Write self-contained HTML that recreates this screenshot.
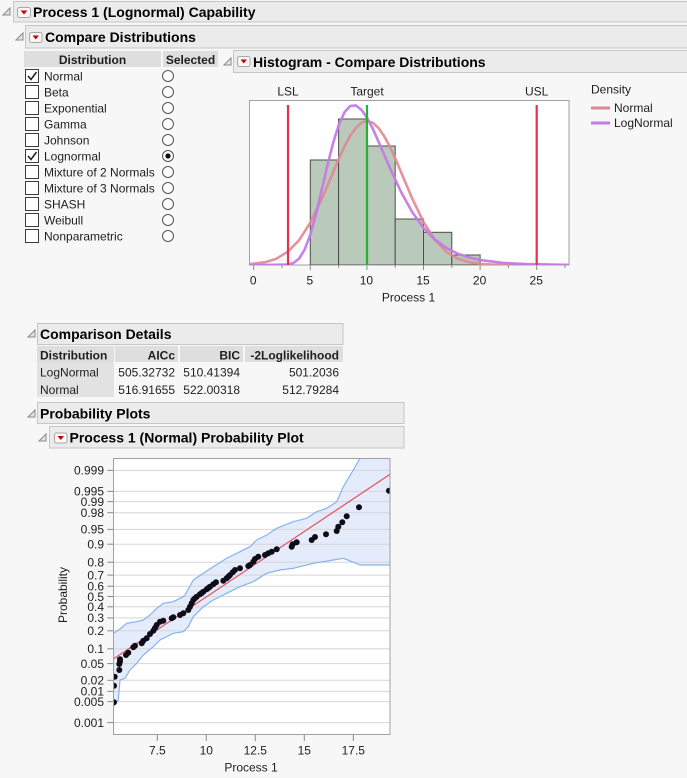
<!DOCTYPE html>
<html><head><meta charset="utf-8"><style>
html,body{margin:0;padding:0;background:#f7f7f7;}
svg{display:block;font-family:"Liberation Sans",Arial,sans-serif;}
.h{font-weight:bold;font-size:14px;fill:#000;}
.t{font-size:12px;fill:#1e1e1e;}
.tb{font-size:12px;font-weight:bold;fill:#1e1e1e;}
.tri{fill:#e4e4e4;stroke:#8a8a8a;stroke-width:1;}
.btn{fill:#f8f8f8;stroke:#a6a6a6;stroke-width:1;}
.rd{fill:#cc0000;}
.hdr{fill:#ebebeb;stroke:#c6c6c6;stroke-width:1;}
.cb{fill:#fff;stroke:#3a3a3a;stroke-width:1;}
.rb{fill:#fff;stroke:#555;stroke-width:1;}
.grid{stroke:#d6d6d6;stroke-width:1;}
.tk{stroke:#8a8a8a;stroke-width:1;}
</style></head><body>
<svg width="687" height="778" viewBox="0 0 687 778" xmlns="http://www.w3.org/2000/svg">
<rect x="0" y="0" width="687" height="778" fill="#f7f7f7"/>

<!-- Header 1 -->
<rect class="hdr" x="13.5" y="1.5" width="674" height="20.5"/>
<polygon class="tri" points="10,8 10,15 3,15"/>
<rect class="btn" x="17.5" y="7.5" width="13" height="10" rx="2"/>
<polygon class="rd" points="20.5,10.5 27.5,10.5 24,14.5"/>
<text class="h" x="33" y="17">Process 1 (Lognormal) Capability</text>

<!-- Header 2 -->
<rect class="hdr" x="25.5" y="25.5" width="662" height="22.5"/>
<polygon class="tri" points="23,33 23,40 16,40"/>
<rect class="btn" x="29.5" y="32.5" width="12.5" height="10" rx="2"/>
<polygon class="rd" points="32.5,35.5 39,35.5 35.75,39.5"/>
<text class="h" x="45" y="42">Compare Distributions</text>

<!-- Distribution table -->
<rect x="24" y="51" width="137" height="16" fill="#dedede"/>
<rect x="163" y="51" width="55" height="16" fill="#dedede"/>
<text class="tb" x="92.5" y="64" text-anchor="middle">Distribution</text>
<text class="tb" x="190.5" y="64" text-anchor="middle">Selected</text>

<g>
<rect class="cb" x="25.5" y="69.5" width="13" height="13"/>
<path d="M28,76 L31,79.5 L36.5,72" stroke="#222" stroke-width="1.6" fill="none"/>
<text class="t" x="44" y="80.7">Normal</text>
<circle class="rb" cx="168" cy="76" r="5.5"/>

<rect class="cb" x="25.5" y="85.5" width="13" height="13"/>
<text class="t" x="44" y="96.7">Beta</text>
<circle class="rb" cx="168" cy="92" r="5.5"/>

<rect class="cb" x="25.5" y="101.5" width="13" height="13"/>
<text class="t" x="44" y="112.7">Exponential</text>
<circle class="rb" cx="168" cy="108" r="5.5"/>

<rect class="cb" x="25.5" y="117.5" width="13" height="13"/>
<text class="t" x="44" y="128.7">Gamma</text>
<circle class="rb" cx="168" cy="124" r="5.5"/>

<rect class="cb" x="25.5" y="133.5" width="13" height="13"/>
<text class="t" x="44" y="144.7">Johnson</text>
<circle class="rb" cx="168" cy="140" r="5.5"/>

<rect class="cb" x="25.5" y="149.5" width="13" height="13"/>
<path d="M28,156 L31,159.5 L36.5,152" stroke="#222" stroke-width="1.6" fill="none"/>
<text class="t" x="44" y="160.7">Lognormal</text>
<circle class="rb" cx="168" cy="156" r="5.5"/>
<circle cx="168" cy="156" r="2.6" fill="#111"/>

<rect class="cb" x="25.5" y="165.5" width="13" height="13"/>
<text class="t" x="44" y="176.7">Mixture of 2 Normals</text>
<circle class="rb" cx="168" cy="172" r="5.5"/>

<rect class="cb" x="25.5" y="181.5" width="13" height="13"/>
<text class="t" x="44" y="192.7">Mixture of 3 Normals</text>
<circle class="rb" cx="168" cy="188" r="5.5"/>

<rect class="cb" x="25.5" y="197.5" width="13" height="13"/>
<text class="t" x="44" y="208.7">SHASH</text>
<circle class="rb" cx="168" cy="204" r="5.5"/>

<rect class="cb" x="25.5" y="213.5" width="13" height="13"/>
<text class="t" x="44" y="224.7">Weibull</text>
<circle class="rb" cx="168" cy="220" r="5.5"/>

<rect class="cb" x="25.5" y="229.5" width="13" height="13"/>
<text class="t" x="44" y="240.7">Nonparametric</text>
<circle class="rb" cx="168" cy="236" r="5.5"/>
</g>

<!-- Histogram header -->
<rect class="hdr" x="233.5" y="50.5" width="454" height="22"/>
<polygon class="tri" points="231,58 231,65 224,65"/>
<rect class="btn" x="237.5" y="56.5" width="12.5" height="10" rx="2"/>
<polygon class="rd" points="240.5,59.5 247,59.5 243.75,63.5"/>
<text class="h" x="253" y="67">Histogram - Compare Distributions</text>

<!-- Histogram plot -->
<defs>
<clipPath id="hc"><rect x="249.5" y="100.5" width="319.5" height="164.5"/></clipPath>
<clipPath id="pc"><rect x="113.5" y="458.5" width="276.5" height="276"/></clipPath>
</defs>
<rect x="249.5" y="100.5" width="319.5" height="164.5" fill="#fff" stroke="#a0a0a0" stroke-width="1"/>
<g clip-path="url(#hc)">
<g fill="#b9c9ba" stroke="#4e4e4e" stroke-width="1">
<rect x="310.3" y="160" width="28.3" height="105"/>
<rect x="338.6" y="119" width="28.3" height="146"/>
<rect x="366.9" y="146" width="28.3" height="119"/>
<rect x="395.2" y="219" width="28.3" height="46"/>
<rect x="423.5" y="232.3" width="28.3" height="32.7"/>
<rect x="451.8" y="255" width="28.3" height="10"/>
</g>
<g transform="translate(0.7,0)" fill="none" stroke-linejoin="round" stroke-linecap="round">
<polyline stroke="#e08890" stroke-opacity="0.9" stroke-width="2.6" points="248,264.3 264.3,262.2 275.7,258.7 287,251.8 298.4,240.2 309.7,222.5 321,199.1 326.7,185.8 332.4,172.2 338.1,158.9 343.7,146.5 349.4,136 355.1,127.9 360.7,122.7 366.4,121 372.1,122.7 377.7,127.9 383.4,136 389.1,146.5 394.8,158.9 400.4,172.2 406.1,185.8 411.8,199.1 423.1,222.5 434.4,240.2 445.8,251.8 457.1,258.7 468.5,262.2 479.8,263.9 491.1,264.6 502.5,264.9 570,265.2"/>
<polyline stroke="#c47ae6" stroke-opacity="0.95" stroke-width="2.6" points="248,265.2 287,264.6 292.7,263 298.4,258.6 304,249.4 309.7,234.3 315.4,214 321,190 326.7,165.5 332.4,143 338.1,124.8 343.7,112.4 349.4,106 355.1,105.4 360.7,109.8 366.4,117.9 372.1,128.8 377.7,141.3 383.4,154.5 389.1,167.7 400.4,192.1 411.8,212.5 423.1,228.2 434.4,239.8 445.8,248 457.1,253.7 468.5,257.5 479.8,260.1 502.5,262.9 525.2,264.1 570,264.9"/>
</g>
<line x1="288" y1="105" x2="288" y2="266" stroke="#e8304a" stroke-width="2.2"/>
<line x1="536.7" y1="105" x2="536.7" y2="266" stroke="#e8304a" stroke-width="2.2"/>
<line x1="367" y1="105" x2="367" y2="266" stroke="#22b32e" stroke-width="2.2"/>
</g>
<text class="t" x="288" y="95.7" text-anchor="middle">LSL</text>
<text class="t" x="367" y="95.7" text-anchor="middle">Target</text>
<text class="t" x="536.7" y="95.7" text-anchor="middle">USL</text>
<!-- histogram axis ticks -->
<g class="tk">
<line x1="253.7" y1="265.5" x2="253.7" y2="270"/>
<line x1="282" y1="265.5" x2="282" y2="268"/>
<line x1="310.3" y1="265.5" x2="310.3" y2="270"/>
<line x1="338.6" y1="265.5" x2="338.6" y2="268"/>
<line x1="366.9" y1="265.5" x2="366.9" y2="270"/>
<line x1="395.2" y1="265.5" x2="395.2" y2="268"/>
<line x1="423.5" y1="265.5" x2="423.5" y2="270"/>
<line x1="451.8" y1="265.5" x2="451.8" y2="268"/>
<line x1="480.1" y1="265.5" x2="480.1" y2="270"/>
<line x1="508.4" y1="265.5" x2="508.4" y2="268"/>
<line x1="536.7" y1="265.5" x2="536.7" y2="270"/>
<line x1="565" y1="265.5" x2="565" y2="268"/>
</g>
<g class="t" text-anchor="middle">
<text x="253.2" y="284.3">0</text>
<text x="309.8" y="284.3">5</text>
<text x="366.4" y="284.3">10</text>
<text x="423" y="284.3">15</text>
<text x="479.6" y="284.3">20</text>
<text x="536.2" y="284.3">25</text>
<text x="408.5" y="301.7">Process 1</text>
</g>
<!-- legend -->
<text class="t" x="591" y="93.3">Density</text>
<line x1="591" y1="108" x2="610" y2="108" stroke="#e08890" stroke-width="3"/>
<text class="t" x="614" y="112">Normal</text>
<line x1="591" y1="123" x2="610" y2="123" stroke="#c47ae6" stroke-width="3"/>
<text class="t" x="614" y="127">LogNormal</text>

<!-- Comparison Details -->
<rect class="hdr" x="37.5" y="323.5" width="305.5" height="21"/>
<polygon class="tri" points="35,330 35,337 28,337"/>
<text class="h" x="40" y="339">Comparison Details</text>
<rect x="37" y="346" width="77" height="16" fill="#dedede"/>
<rect x="115" y="346" width="63" height="16" fill="#dedede"/>
<rect x="180" y="346" width="63" height="16" fill="#dedede"/>
<rect x="245" y="346" width="98" height="16" fill="#dedede"/>
<rect x="37" y="362" width="77" height="35" fill="#e2e2e2"/>
<text class="tb" x="40" y="359.3">Distribution</text>
<text class="tb" x="175" y="359.3" text-anchor="end">AICc</text>
<text class="tb" x="240" y="359.3" text-anchor="end">BIC</text>
<text class="tb" x="339" y="359.3" text-anchor="end">-2Loglikelihood</text>
<text class="t" x="40" y="376.7" fill="#333">LogNormal</text>
<text class="t" x="175" y="376.7" text-anchor="end">505.32732</text>
<text class="t" x="240" y="376.7" text-anchor="end">510.41394</text>
<text class="t" x="339" y="376.7" text-anchor="end">501.2036</text>
<text class="t" x="40" y="394" fill="#333">Normal</text>
<text class="t" x="175" y="394" text-anchor="end">516.91655</text>
<text class="t" x="240" y="394" text-anchor="end">522.00318</text>
<text class="t" x="339" y="394" text-anchor="end">512.79284</text>

<!-- Probability Plots -->
<rect class="hdr" x="37.5" y="402.5" width="366.5" height="21"/>
<polygon class="tri" points="35,410 35,417 28,417"/>
<text class="h" x="40" y="418.3">Probability Plots</text>

<rect class="hdr" x="49.5" y="426.5" width="354.5" height="21.5"/>
<polygon class="tri" points="46,434 46,441 39,441"/>
<rect class="btn" x="54.5" y="433" width="12.5" height="10" rx="2"/>
<polygon class="rd" points="57.5,436 64,436 60.75,440"/>
<text class="h" x="69.5" y="442.3">Process 1 (Normal) Probability Plot</text>

<!-- prob plot frame -->
<rect x="113.5" y="458.5" width="276.5" height="276" fill="#fff"/>
<g clip-path="url(#pc)">
<polygon fill="#e4ebfb" points="113.3,633.3 120,629 126.7,623.3 136.7,621.7 143.3,620 150,615 156.7,608.3 163.3,603.3 173.3,601.7 183.3,596.7 185,595 193.3,580 203.3,573.3 213.3,566.7 226.7,558.3 233.3,555 240,551.7 250,546.7 256.7,540 266.7,535 276.7,528.3 293.3,521.7 306.7,518.3 316.7,511.7 326.7,508.3 336.7,501.7 343.3,486.7 353.3,470 360,458.3 365,448 392,448 392,565 360,565 343.3,558.3 333.3,560 313.3,563.3 293.3,568.3 280,570 266.7,573.3 253.3,581.7 240,586.7 226.7,593.3 213.3,600 203.3,606.7 193.3,616.7 188.3,626.7 183.3,631.7 173.3,633.3 160,640 153.3,646.7 143.3,655 136.7,663.3 130,670 125,678.3 120,680 118.3,700 113.3,706.7 110,712 110,633"/>
<g class="grid">
<line x1="113" y1="470.4" x2="390" y2="470.4"/>
<line x1="113" y1="491.4" x2="390" y2="491.4"/>
<line x1="113" y1="501.6" x2="390" y2="501.6"/>
<line x1="113" y1="512.7" x2="390" y2="512.7"/>
<line x1="113" y1="529.4" x2="390" y2="529.4"/>
<line x1="113" y1="544.2" x2="390" y2="544.2"/>
<line x1="113" y1="562.2" x2="390" y2="562.2"/>
<line x1="113" y1="575.1" x2="390" y2="575.1"/>
<line x1="113" y1="586.2" x2="390" y2="586.2"/>
<line x1="113" y1="596.5" x2="390" y2="596.5"/>
<line x1="113" y1="606.8" x2="390" y2="606.8"/>
<line x1="113" y1="617.9" x2="390" y2="617.9"/>
<line x1="113" y1="630.8" x2="390" y2="630.8"/>
<line x1="113" y1="648.8" x2="390" y2="648.8"/>
<line x1="113" y1="663.6" x2="390" y2="663.6"/>
<line x1="113" y1="680.3" x2="390" y2="680.3"/>
<line x1="113" y1="691.4" x2="390" y2="691.4"/>
<line x1="113" y1="701.6" x2="390" y2="701.6"/>
<line x1="113" y1="722.6" x2="390" y2="722.6"/>
</g>
<g fill="none" stroke="#86b3ee" stroke-width="1.2" stroke-linejoin="round">
<polyline points="113.3,633.3 120,629 126.7,623.3 136.7,621.7 143.3,620 150,615 156.7,608.3 163.3,603.3 173.3,601.7 183.3,596.7 185,595 193.3,580 203.3,573.3 213.3,566.7 226.7,558.3 233.3,555 240,551.7 250,546.7 256.7,540 266.7,535 276.7,528.3 293.3,521.7 306.7,518.3 316.7,511.7 326.7,508.3 336.7,501.7 343.3,486.7 353.3,470 360,458.3 365,448"/>
<polyline points="392,565 360,565 343.3,558.3 333.3,560 313.3,563.3 293.3,568.3 280,570 266.7,573.3 253.3,581.7 240,586.7 226.7,593.3 213.3,600 203.3,606.7 193.3,616.7 188.3,626.7 183.3,631.7 173.3,633.3 160,640 153.3,646.7 143.3,655 136.7,663.3 130,670 125,678.3 120,680 118.3,700 113.3,706.7"/>
</g>
<line x1="113.3" y1="659" x2="390" y2="474.3" stroke="#e8505f" stroke-width="1.2"/>
<g fill="#0d0d18">
<circle cx="114" cy="702.3" r="3"/>
<circle cx="114" cy="685.7" r="3"/>
<circle cx="114.7" cy="676.7" r="3"/>
<circle cx="119.3" cy="670" r="3"/>
<circle cx="119.3" cy="664" r="3"/>
<circle cx="120" cy="659.3" r="3"/>
<circle cx="120" cy="661.5" r="3"/>
<circle cx="126" cy="655" r="3"/>
<circle cx="128.3" cy="652.7" r="3"/>
<circle cx="133.3" cy="647.3" r="3"/>
<circle cx="135" cy="645.7" r="3"/>
<circle cx="141.7" cy="643.3" r="3"/>
<circle cx="143.3" cy="640.7" r="3"/>
<circle cx="146.7" cy="638.3" r="3"/>
<circle cx="150" cy="634" r="3"/>
<circle cx="153.3" cy="630.7" r="3"/>
<circle cx="155" cy="628" r="3"/>
<circle cx="156.7" cy="625" r="3"/>
<circle cx="160" cy="621.7" r="3"/>
<circle cx="163.3" cy="620.7" r="3"/>
<circle cx="171.7" cy="618.3" r="3"/>
<circle cx="173.3" cy="617.3" r="3"/>
<circle cx="180" cy="615" r="3"/>
<circle cx="183.3" cy="613.3" r="3"/>
<circle cx="188.3" cy="610" r="3"/>
<circle cx="190" cy="606.7" r="3"/>
<circle cx="191.7" cy="603.3" r="3"/>
<circle cx="193.3" cy="600" r="3"/>
<circle cx="195" cy="598.3" r="3"/>
<circle cx="196.7" cy="596.7" r="3"/>
<circle cx="200" cy="594.3" r="3"/>
<circle cx="201.7" cy="593" r="3"/>
<circle cx="203.3" cy="591.7" r="3"/>
<circle cx="206.7" cy="589.3" r="3"/>
<circle cx="208.3" cy="588" r="3"/>
<circle cx="210" cy="586.7" r="3"/>
<circle cx="213.3" cy="584.3" r="3"/>
<circle cx="216" cy="582.3" r="3"/>
<circle cx="223.3" cy="580.7" r="3"/>
<circle cx="226.7" cy="578.3" r="3"/>
<circle cx="228.3" cy="576.7" r="3"/>
<circle cx="230" cy="575" r="3"/>
<circle cx="232.7" cy="572.3" r="3"/>
<circle cx="235" cy="570" r="3"/>
<circle cx="240" cy="568.3" r="3"/>
<circle cx="248.3" cy="566" r="3"/>
<circle cx="250" cy="565" r="3"/>
<circle cx="253.3" cy="561.7" r="3"/>
<circle cx="255" cy="559" r="3"/>
<circle cx="258.3" cy="556.7" r="3"/>
<circle cx="265" cy="555" r="3"/>
<circle cx="268.3" cy="553.3" r="3"/>
<circle cx="271.7" cy="551.7" r="3"/>
<circle cx="276.7" cy="549.3" r="3"/>
<circle cx="291.7" cy="546.7" r="3"/>
<circle cx="292.7" cy="544.3" r="3"/>
<circle cx="296.7" cy="542.3" r="3"/>
<circle cx="311.7" cy="540" r="3"/>
<circle cx="315" cy="537" r="3"/>
<circle cx="326" cy="534.3" r="3"/>
<circle cx="336.7" cy="531" r="3"/>
<circle cx="338.3" cy="526.7" r="3"/>
<circle cx="342.3" cy="522.3" r="3"/>
<circle cx="346.7" cy="516.3" r="3"/>
<circle cx="359" cy="507.3" r="3"/>
<circle cx="389" cy="490.7" r="3"/>
</g>
</g>
<rect x="113.5" y="458.5" width="276.5" height="276" fill="none" stroke="#a0a0a0" stroke-width="1"/>
<!-- y ticks -->
<g class="tk">
<line x1="107.3" y1="470.4" x2="113" y2="470.4"/>
<line x1="107.3" y1="491.4" x2="113" y2="491.4"/>
<line x1="107.3" y1="501.6" x2="113" y2="501.6"/>
<line x1="107.3" y1="512.7" x2="113" y2="512.7"/>
<line x1="107.3" y1="529.4" x2="113" y2="529.4"/>
<line x1="107.3" y1="544.2" x2="113" y2="544.2"/>
<line x1="107.3" y1="562.2" x2="113" y2="562.2"/>
<line x1="107.3" y1="575.1" x2="113" y2="575.1"/>
<line x1="107.3" y1="586.2" x2="113" y2="586.2"/>
<line x1="107.3" y1="596.5" x2="113" y2="596.5"/>
<line x1="107.3" y1="606.8" x2="113" y2="606.8"/>
<line x1="107.3" y1="617.9" x2="113" y2="617.9"/>
<line x1="107.3" y1="630.8" x2="113" y2="630.8"/>
<line x1="107.3" y1="648.8" x2="113" y2="648.8"/>
<line x1="107.3" y1="663.6" x2="113" y2="663.6"/>
<line x1="107.3" y1="680.3" x2="113" y2="680.3"/>
<line x1="107.3" y1="691.4" x2="113" y2="691.4"/>
<line x1="107.3" y1="701.6" x2="113" y2="701.6"/>
<line x1="107.3" y1="722.6" x2="113" y2="722.6"/>
<line x1="157.3" y1="735" x2="157.3" y2="741"/>
<line x1="206.3" y1="735" x2="206.3" y2="741"/>
<line x1="255.3" y1="735" x2="255.3" y2="741"/>
<line x1="304.3" y1="735" x2="304.3" y2="741"/>
<line x1="353.3" y1="735" x2="353.3" y2="741"/>
</g>
<g class="t" text-anchor="end">
<text x="104" y="474.7">0.999</text>
<text x="104" y="495.7">0.995</text>
<text x="104" y="505.9">0.99</text>
<text x="104" y="517">0.98</text>
<text x="104" y="533.7">0.95</text>
<text x="104" y="548.5">0.9</text>
<text x="104" y="566.5">0.8</text>
<text x="104" y="579.4">0.7</text>
<text x="104" y="590.5">0.6</text>
<text x="104" y="600.8">0.5</text>
<text x="104" y="611.1">0.4</text>
<text x="104" y="622.2">0.3</text>
<text x="104" y="635.1">0.2</text>
<text x="104" y="653.1">0.1</text>
<text x="104" y="667.9">0.05</text>
<text x="104" y="684.6">0.02</text>
<text x="104" y="695.7">0.01</text>
<text x="104" y="705.9">0.005</text>
<text x="104" y="726.9">0.001</text>
</g>
<g class="t" text-anchor="middle">
<text x="157.3" y="754.5">7.5</text>
<text x="206.3" y="754.5">10</text>
<text x="255.3" y="754.5">12.5</text>
<text x="304.3" y="754.5">15</text>
<text x="353.3" y="754.5">17.5</text>
<text x="251" y="771.7">Process 1</text>
<text x="0" y="0" transform="translate(67,595) rotate(-90)">Probability</text>
</g>
</svg>
</body></html>
